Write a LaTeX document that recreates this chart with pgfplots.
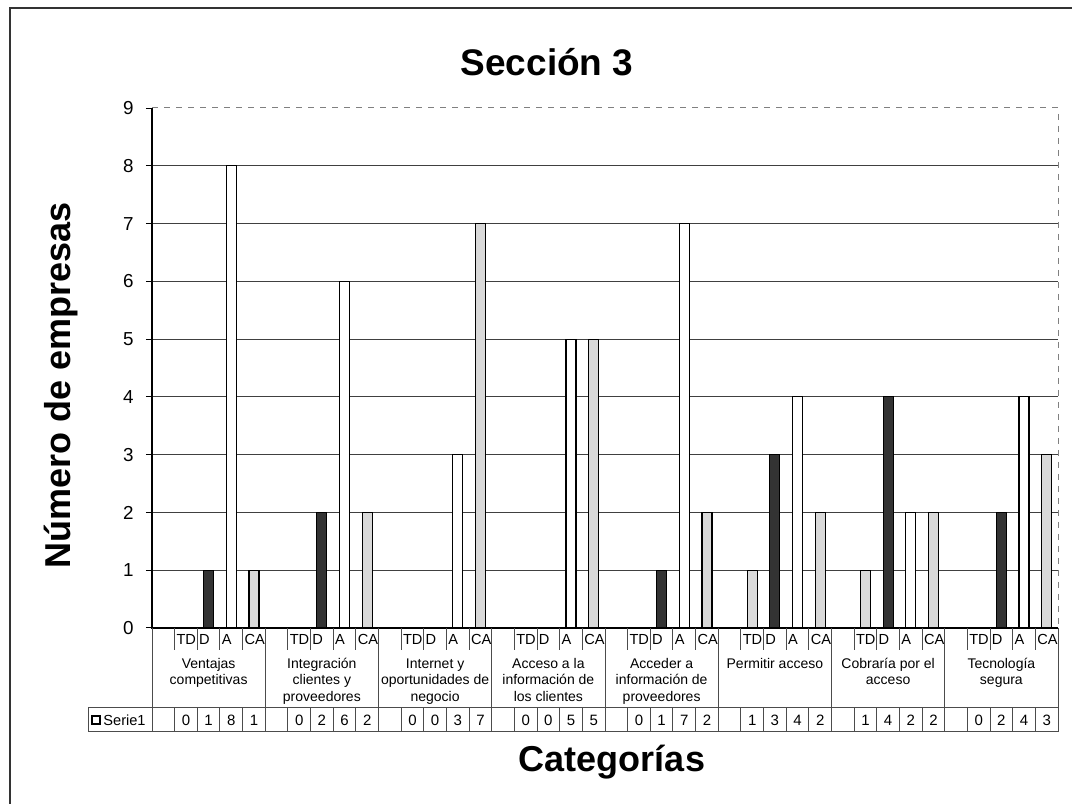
\documentclass[border=0pt]{standalone}
\usepackage{fontspec}
\setmainfont{Liberation Sans}
\usepackage{pgfplots}
\pgfplotsset{compat=1.18}
\usepackage{pgfplotstable}

\pgfplotstableread{
g TD D A CA
0 0 1 8 1
1 0 2 6 2
2 0 0 3 7
3 0 0 5 5
4 0 1 7 2
5 1 3 4 2
6 1 4 2 2
7 0 2 4 3
}\datos

\newcommand{\grp}[1]{\rule{0pt}{5.3pt}#1}

\begin{document}
\begin{tikzpicture}
\clip (0,0) rectangle (536pt,402pt);
\begin{axis}[
  at={(76pt,88pt)}, anchor=south west,
  scale only axis, width=453pt, height=260pt,
  xmin=0, xmax=40, ymin=0, ymax=9,
  clip=false,
  axis line style={draw=none},
  xtick=\empty,
  ytick={1,...,8}, extra y ticks={0,9},
  extra y tick style={grid=none},
  ymajorgrids, grid style={black!75, line width=0.5pt},
  tick align=outside, major tick length=3pt, ytick pos=left,
  tick style={black, line width=0.5pt},
  yticklabel style={font=\fontsize{9.4}{11}\selectfont, inner sep=0pt, anchor=east, xshift=-6pt},
  /pgf/number format/assume math mode=true,
]
\addplot[ybar, bar width=5pt, bar shift=0pt, draw=black, line width=0.6pt, fill=gray!28]
  table[x expr=5*\thisrow{g}+1.5, y=TD]{\datos};
\addplot[ybar, bar width=5pt, bar shift=0pt, draw=black, line width=0.6pt, fill=black!80]
  table[x expr=5*\thisrow{g}+2.5, y=D]{\datos};
\addplot[ybar, bar width=5pt, bar shift=0pt, draw=black, line width=0.6pt, fill=white]
  table[x expr=5*\thisrow{g}+3.5, y=A]{\datos};
\addplot[ybar, bar width=5pt, bar shift=0pt, draw=black, line width=0.6pt, fill=gray!30]
  table[x expr=5*\thisrow{g}+4.5, y=CA]{\datos};
\end{axis}

\begin{scope}[x=0.5pt, y=-0.5pt, yshift=402pt]
  % chart border
  \draw[line width=1pt, black!80] (10,830) -- (10,8) -- (1100,8);
  % plot area frame
  \draw[black, line width=0.6pt] (152,108) -- (152,628) -- (1058,628);
  \draw[gray, dashed, line width=0.5pt] (152,108) -- (1058,108) -- (1058,628);
  % data table lines
  \draw[black!70, line width=0.5pt] (88,708) -- (1058,708) (88,732) -- (1058,732) (88,708) -- (88,732);
  \foreach \k in {0,...,40} \draw[black!70, line width=0.5pt] ({152+22.65*\k},708) -- ({152+22.65*\k},732);
  \foreach \g in {0,...,8} \draw[black!70, line width=0.5pt] ({152+113.25*\g},628) -- ({152+113.25*\g},708);
  \foreach \g in {0,...,7} \foreach \s in {1,...,4}
    \draw[black!70, line width=0.5pt] ({152+113.25*\g+22.65*\s},628) -- ({152+113.25*\g+22.65*\s},650);
  % sub-category labels and values
  \foreach \g in {0,...,7}{
    \foreach [count=\s] \c in {TD,D,A,CA}{
      \node[anchor=base west, inner sep=0pt, font=\fontsize{7.3}{8}\selectfont]
        at ({152+22.65*(5*\g+\s)+1.5},645) {\c};
      \pgfplotstablegetelem{\g}{\c}\of\datos
      \node[anchor=center, inner sep=0pt, font=\fontsize{7.5}{8}\selectfont]
        at ({152+22.65*(5*\g+\s+0.5)},720) {\pgfplotsretval};
    }
  }
  % group labels
  \foreach [count=\i from 0] \t in {
    {Ventajas\\competitivas},
    {Integración\\clientes y\\proveedores},
    {Internet y\\oportunidades de\\negocio},
    {Acceso a la\\información de\\los clientes},
    {Acceder a\\información de\\proveedores},
    {Permitir acceso},
    {Cobraría por el\\acceso},
    {Tecnología\\segura}}{
    \node[anchor=north, inner sep=0pt, align=center, font=\fontsize{7}{8.2}\selectfont]
      at ({152+113.25*(\i+0.5)},657.4) {\grp{}\t};
  }
  % legend key
  \draw[line width=0.8pt, fill=white] (92,716) rectangle (100,724);
  \node[anchor=west, inner sep=0pt, font=\fontsize{7.3}{8}\selectfont] at (103,720) {Serie1};
  % titles
  \node[font=\fontsize{18.5}{22}\selectfont\bfseries] at (547,62) {Sección 3};
  \node[font=\fontsize{18}{22}\selectfont\bfseries] at (612,762) {Categorías};
  \node[font=\fontsize{18}{22}\selectfont\bfseries, rotate=90] at (61,385) {Número de empresas};
\end{scope}
\end{tikzpicture}
\end{document}
